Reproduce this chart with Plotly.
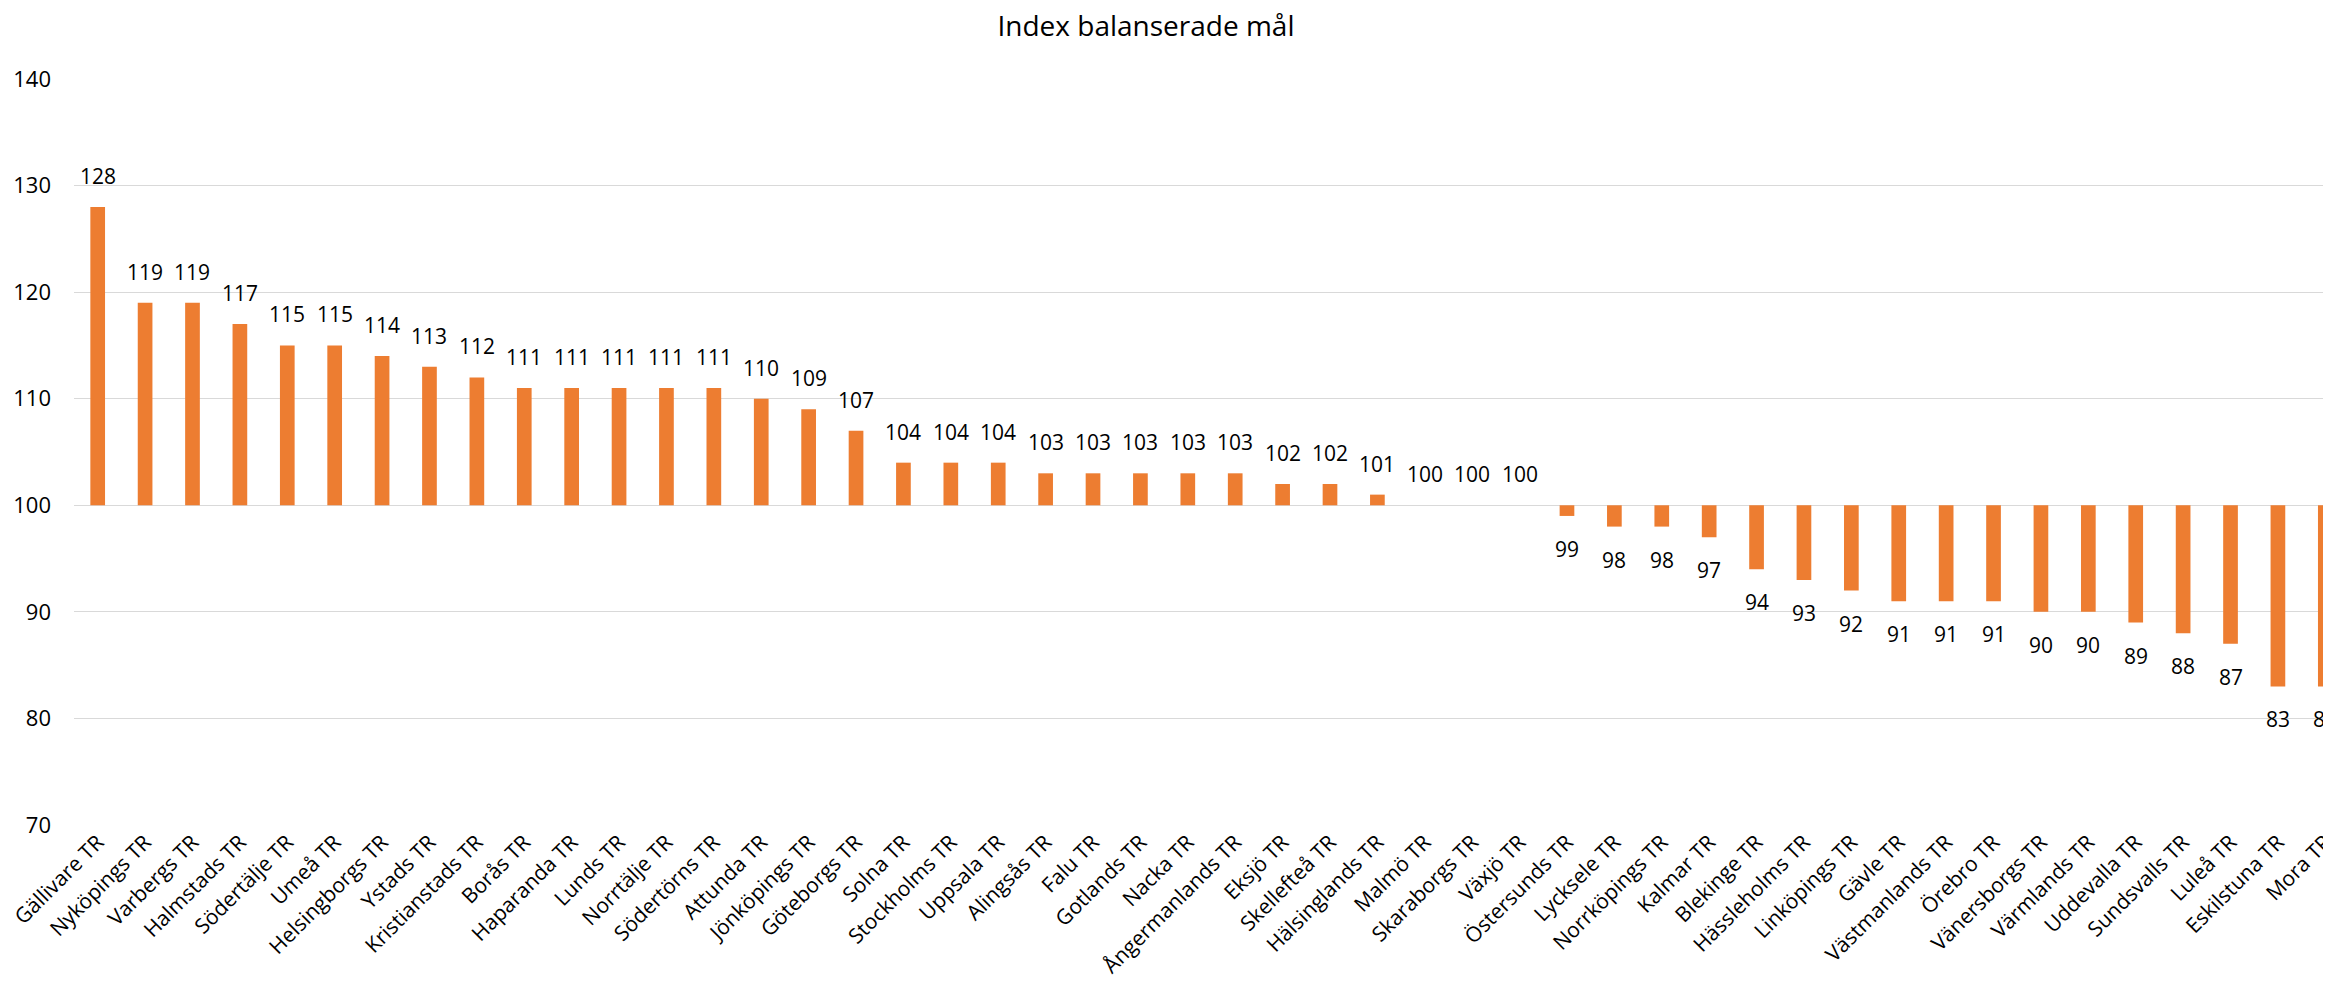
import plotly.graph_objects as go

categories = ["Gällivare TR", "Nyköpings TR", "Varbergs TR", "Halmstads TR", "Södertälje TR", "Umeå TR",
              "Helsingborgs TR", "Ystads TR", "Kristianstads TR", "Borås TR", "Haparanda TR", "Lunds TR",
              "Norrtälje TR", "Södertörns TR", "Attunda TR", "Jönköpings TR", "Göteborgs TR", "Solna TR",
              "Stockholms TR", "Uppsala TR", "Alingsås TR", "Falu TR", "Gotlands TR", "Nacka TR",
              "Ångermanlands TR", "Eksjö TR", "Skellefteå TR", "Hälsinglands TR", "Malmö TR", "Skaraborgs TR",
              "Växjö TR", "Östersunds TR", "Lycksele TR", "Norrköpings TR", "Kalmar TR", "Blekinge TR",
              "Hässleholms TR", "Linköpings TR", "Gävle TR", "Västmanlands TR", "Örebro TR", "Vänersborgs TR",
              "Värmlands TR", "Uddevalla TR", "Sundsvalls TR", "Luleå TR", "Eskilstuna TR", "Mora TR"]
values = [128, 119, 119, 117, 115, 115, 114, 113, 112, 111, 111, 111, 111, 111, 110, 109, 107, 104,
          104, 104, 103, 103, 103, 103, 103, 102, 102, 101, 100, 100, 100, 99, 98, 98, 97, 94,
          93, 92, 91, 91, 91, 90, 90, 89, 88, 87, 83, 83]
baseline = 100
y_ticks = [70, 80, 90, 100, 110, 120, 130, 140]

FONT = "Open Sans"
ORANGE = "#ED7D31"

fig = go.Figure()
fig.add_trace(go.Bar(
    x=categories,
    y=[v - baseline for v in values],
    base=baseline,
    marker=dict(color=ORANGE, line=dict(width=0)),
    width=0.31,
    hoverinfo="x+text",
    text=[str(v) for v in values],
    textposition="none",
))

for c, v in zip(categories, values):
    below = v < baseline
    fig.add_annotation(
        x=c, y=v, xref="x", yref="y",
        text=str(v), showarrow=False,
        yanchor="top" if below else "bottom",
        yshift=-17 if below else 15,
        font=dict(family=FONT, size=21, color="#000000"),
    )

# page body has an 8px default margin; figure sized so the plot runs to the window edge
fig.update_layout(
    width=2323, height=978,
    margin=dict(l=66, r=0, t=71, b=161),
    paper_bgcolor="white", plot_bgcolor="white",
    showlegend=False,
    title=dict(text="Index balanserade mål", x=1138 / 2323, xanchor="center",
               y=1 - 18 / 978, yanchor="middle", yref="container",
               font=dict(family=FONT, size=28, color="#000000")),
    font=dict(family=FONT, color="#000000"),
)
fig.update_xaxes(
    range=[-0.5, 47.12], tickangle=-45, showgrid=False, showline=False, zeroline=False,
    tickfont=dict(family=FONT, size=21, color="#000000"), ticks="", automargin=False,
)
fig.update_yaxes(
    range=[70, 140], tickvals=y_ticks, showgrid=True, gridcolor="#D9D9D9", gridwidth=1.3,
    zeroline=False, showline=False, ticks="", ticklabelstandoff=22, automargin=False,
    tickfont=dict(family=FONT, size=22, color="#000000"),
)

fig.write_html("out.html")
